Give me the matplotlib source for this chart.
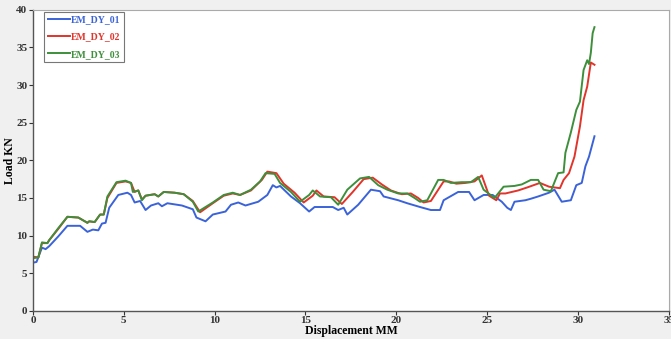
import matplotlib.pyplot as plt

# displacement (mm) / load (kN)
x1 = [0.0, 0.2, 0.5, 0.7, 0.9, 1.4, 1.9, 2.6, 3.0, 3.3, 3.6, 3.8, 4.0, 4.2, 4.7, 5.2, 5.4, 5.6,
      5.9, 6.2, 6.5, 6.9, 7.1, 7.4, 8.2, 8.8, 9.0, 9.5, 9.9, 10.6, 10.9, 11.3, 11.7, 12.4, 12.9,
      13.2, 13.4, 13.6, 14.2, 14.7, 15.2, 15.5, 16.0, 16.5, 16.8, 17.1, 17.3, 17.9, 18.6, 19.1,
      19.3, 20.1, 20.6, 21.3, 21.9, 22.4, 22.6, 23.4, 24.0, 24.3, 24.8, 25.3, 25.8, 26.1, 26.3,
      26.5, 27.1, 27.4, 27.8, 28.4, 28.7, 29.1, 29.6, 29.9, 30.2, 30.4, 30.6, 30.9]
y1 = [6.4, 6.5, 8.4, 8.2, 8.6, 9.9, 11.3, 11.3, 10.5, 10.8, 10.7, 11.6, 11.7, 13.7, 15.4, 15.7,
      15.4, 14.4, 14.6, 13.4, 14.0, 14.3, 13.9, 14.3, 14.0, 13.5, 12.4, 11.9, 12.8, 13.2, 14.1,
      14.4, 14.0, 14.5, 15.4, 16.7, 16.4, 16.6, 15.2, 14.3, 13.2, 13.8, 13.8, 13.8, 13.4, 13.7,
      12.8, 14.1, 16.1, 15.9, 15.2, 14.7, 14.3, 13.8, 13.4, 13.4, 14.7, 15.8, 15.8, 14.7, 15.4,
      15.4, 14.5, 13.7, 13.4, 14.5, 14.7, 14.9, 15.2, 15.7, 16.1, 14.5, 14.7, 16.7, 17.0, 19.2,
      20.5, 23.2]

x3 = [0.0, 0.3, 0.5, 0.8, 0.9, 1.4, 1.9, 2.5, 3.0, 3.1, 3.4, 3.7, 3.9, 4.1, 4.6, 5.1, 5.4, 5.5,
      5.8, 6.0, 6.2, 6.7, 6.9, 7.2, 7.8, 8.3, 8.8, 9.1, 9.9, 10.5, 11.0, 11.4, 12.0, 12.5, 12.8,
      13.3, 13.6, 14.2, 14.7, 15.2, 15.4, 15.8, 16.4, 16.8, 17.3, 18.0, 18.5, 19.0, 19.5, 20.1,
      20.6, 21.0, 21.3, 21.7, 22.3, 22.6, 23.0, 23.6, 24.1, 24.5, 24.8, 25.4, 25.6, 25.9, 26.5,
      26.9, 27.4, 27.8, 28.1, 28.5, 28.9, 29.2, 29.3, 29.6, 29.9, 30.1, 30.3, 30.5, 30.6, 30.7,
      30.8, 30.9]
y3 = [7.0, 7.1, 9.1, 9.0, 9.4, 11.0, 12.5, 12.4, 11.7, 11.9, 11.8, 12.8, 12.8, 15.2, 17.1, 17.3,
      17.0, 15.8, 16.0, 14.7, 15.3, 15.5, 15.2, 15.8, 15.7, 15.5, 14.5, 13.2, 14.4, 15.4, 15.7,
      15.4, 16.1, 17.2, 18.3, 18.2, 17.0, 15.8, 14.5, 15.4, 16.0, 15.2, 15.1, 14.1, 16.1, 17.6,
      17.8, 16.7, 16.1, 15.6, 15.6, 15.0, 14.5, 14.7, 17.4, 17.4, 17.0, 17.1, 17.1, 17.8, 16.1,
      15.0, 15.6, 16.5, 16.6, 16.8, 17.4, 17.4, 16.1, 15.9, 18.3, 18.4, 21.0, 23.7, 26.7, 27.8,
      32.0, 33.3, 32.8, 34.3, 36.9, 37.7]

x2 = [0.0, 0.3, 0.5, 0.8, 0.9, 1.4, 1.9, 2.5, 3.0, 3.1, 3.4, 3.7, 3.9, 4.1, 4.6, 5.1, 5.4, 5.6,
      5.8, 6.0, 6.2, 6.7, 6.9, 7.2, 7.8, 8.3, 8.8, 9.2, 9.9, 10.5, 11.0, 11.4, 12.0, 12.6, 12.9,
      13.4, 13.8, 14.4, 14.9, 15.4, 15.6, 16.0, 16.6, 17.0, 17.6, 18.2, 18.7, 19.2, 19.7, 20.3,
      20.8, 21.2, 21.5, 21.9, 22.6, 22.9, 23.3, 23.8, 24.3, 24.7, 25.1, 25.5, 25.7, 26.0, 26.7,
      27.2, 27.9, 28.4, 29.0, 29.2, 29.5, 29.8, 30.1, 30.3, 30.5, 30.7, 30.9]
y2 = [7.2, 7.1, 9.0, 9.0, 9.4, 10.9, 12.5, 12.4, 11.7, 11.9, 11.8, 12.8, 12.8, 15.0, 17.0, 17.2,
      17.0, 15.8, 16.0, 14.8, 15.3, 15.5, 15.2, 15.8, 15.7, 15.5, 14.6, 13.1, 14.3, 15.3, 15.6,
      15.4, 16.0, 17.4, 18.5, 18.3, 16.9, 15.7, 14.4, 15.3, 16.0, 15.2, 15.1, 14.2, 15.8, 17.5,
      17.7, 16.8, 16.0, 15.5, 15.6, 15.0, 14.4, 14.6, 17.2, 17.2, 16.9, 17.0, 17.2, 18.0, 15.3,
      14.7, 15.6, 15.6, 16.0, 16.4, 17.0, 16.5, 16.3, 17.4, 18.3, 20.5, 24.5, 28.0, 29.8, 33.0,
      32.7]

labels = ['EM_DY_01', 'EM_DY_02', 'EM_DY_03']
colors = ['#3b63d9', '#e1342b', '#3e8f3b']

plt.rcParams['font.family'] = 'Liberation Serif'
plt.rcParams['font.weight'] = 'bold'

fig = plt.figure(figsize=(6.71, 3.39), dpi=100, facecolor='#f0f0f0')
ax = fig.add_axes([0.049, 0.083, 0.948, 0.888])
ax.set_facecolor('white')

ax.plot(x1, y1, color=colors[0], lw=1.4, label=labels[0])
ax.plot(x2, y2, color=colors[1], lw=1.4, label=labels[1])
ax.plot(x3, y3, color=colors[2], lw=1.4, label=labels[2])

ax.set_xlim(0, 35)
ax.set_ylim(0, 40)
ax.set_xticks(range(0, 36, 5))
ax.set_yticks(range(0, 41, 5))
ax.tick_params(labelsize=8, length=3, width=0.8, colors='#333333', pad=1)
for s in ['top', 'right']:
    ax.spines[s].set_color('#aaaaaa')
for s in ['left', 'bottom']:
    ax.spines[s].set_color('#555555')
    ax.spines[s].set_linewidth(1.0)

ax.set_xlabel('Displacement MM', fontsize=8.5, fontweight='bold', labelpad=0)
ax.set_ylabel('Load KN', fontsize=8.5, fontweight='bold', labelpad=0)

leg = ax.legend(loc='upper left', bbox_to_anchor=(0.015, 1.0), fontsize=7, handlelength=2.3,
                handletextpad=0.1, borderpad=0.35, labelspacing=0.85, fancybox=False,
                borderaxespad=0.2)
leg.get_frame().set_edgecolor('#555555')
leg.get_frame().set_linewidth(0.8)
for t, c in zip(leg.get_texts(), colors):
    t.set_color(c)

plt.savefig('out.png', dpi=100, facecolor=fig.get_facecolor())
